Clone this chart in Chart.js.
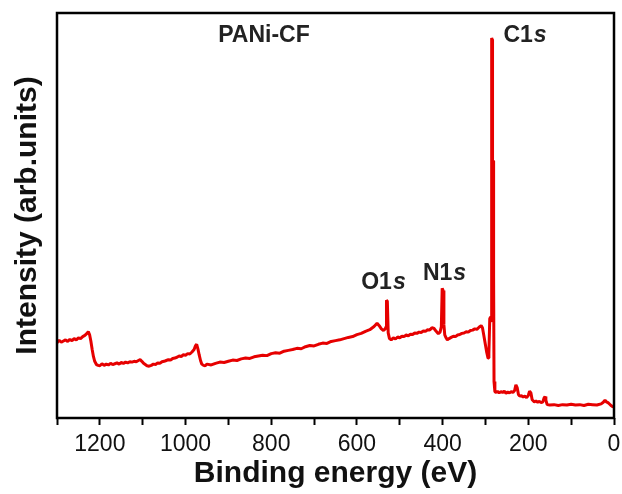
<!DOCTYPE html>
<html>
<head>
<meta charset="utf-8">
<script src="https://cdn.jsdelivr.net/npm/chart.js@4.4.1/dist/chart.umd.min.js"></script>
<style>
  html, body { margin: 0; padding: 0; background: #fff; }
  #wrap { width: 622px; height: 494px; }
</style>
</head>
<body>
<div id="wrap"><canvas id="xpsChart"></canvas></div>
<script>
/********************
DATA
********************/

// binding energy (eV), high to low
var energy = [
  1300, 1295, 1290, 1285, 1280, 1275, 1270, 1265, 1260, 1255, 1250, 1245, 1240, 1235, 1230, 1227, 1224, 1221, 1218, 1215, 1212, 1208, 1204, 1200,
  1195, 1190, 1185, 1180, 1175, 1170, 1165, 1160, 1155, 1150, 1145, 1140, 1135, 1130, 1125, 1120, 1115, 1110, 1106, 1102, 1098, 1094, 1090, 1085, 1080, 1075,
  1070, 1065, 1060, 1055, 1050, 1045, 1040, 1035, 1030, 1025, 1020, 1015, 1010, 1005, 1000, 995, 990, 985, 980, 977, 974, 971, 968, 965, 962, 958, 954,
  950, 940, 930, 920, 910, 900, 890, 880, 870, 860, 850, 840, 830, 820, 810, 800, 790, 780, 770, 760, 750, 740, 730, 720, 710, 700,
  690, 680, 670, 660, 650, 640, 630, 620, 610, 600, 590, 580, 570, 560, 553, 548, 543, 538, 534, 532, 531, 529, 527, 524, 520,
  515, 510, 505, 500, 495, 490, 485, 480, 475, 470, 465, 460, 455, 450, 445, 440, 435, 430, 425, 420, 415, 410, 406, 403, 401, 399, 397, 395, 392, 389,
  385, 380, 375, 370, 365, 360, 355, 350, 345, 340, 335, 330, 325, 320, 315, 310, 307, 304, 300, 297, 294, 292, 290, 288, 286.5, 285.5, 284.5, 283.5, 282, 281, 280, 278,
  275, 272, 268, 264, 260, 256, 252, 248, 244, 240, 236, 232, 229, 226, 223, 220, 216, 212, 208, 204, 200, 197, 194, 191, 186, 182, 178, 174, 170, 166, 163, 161, 159, 156,
  150, 140, 130, 120, 110, 100, 90, 80, 70, 60, 50, 40, 30, 25, 21, 18, 14, 10, 6, 3, 0
];

// intensity (arb. units)
var intensity = [
  18.6, 19.2, 18.7, 19.0, 19.3, 18.9, 19.4, 19.1, 19.6, 19.3, 19.8, 19.6, 20.1, 20.4, 20.9, 21.3, 20.6, 19.0, 17.0, 15.2, 14.0, 13.2, 13.0, 12.9,
  13.4, 13.0, 13.3, 13.1, 13.5, 13.2, 13.4, 13.6, 13.3, 13.7, 13.5, 13.8, 13.6, 13.9, 13.8, 14.0, 13.9, 14.2, 14.4, 14.0, 13.5, 13.2, 12.9, 12.8, 13.0, 13.3,
  13.2, 13.6, 13.5, 13.9, 14.0, 14.2, 14.4, 14.3, 14.7, 14.8, 15.0, 15.3, 15.2, 15.6, 15.5, 15.9, 15.8, 16.3, 16.9, 17.8, 18.2, 17.0, 15.5, 14.2, 13.3, 13.0, 12.9,
  13.3, 13.1, 13.5, 13.8, 13.7, 14.0, 14.3, 14.2, 14.6, 14.8, 14.7, 15.1, 15.3, 15.5, 15.4, 15.9, 16.1, 16.0, 16.5, 16.7, 16.9, 17.2, 17.1, 17.6, 17.9, 17.8,
  18.2, 18.5, 18.4, 18.9, 19.1, 19.3, 19.6, 19.9, 20.1, 20.6, 20.9, 21.4, 21.8, 22.6, 23.4, 22.8, 22.0, 21.6, 22.0, 22.5, 29.1, 28.8, 21.0, 19.6, 19.3,
  19.8, 19.5, 20.0, 19.8, 20.2, 20.1, 20.5, 20.3, 20.7, 20.6, 21.0, 20.9, 21.2, 21.1, 21.5, 21.4, 21.8, 21.7, 22.3, 22.1, 21.4, 20.8, 21.2, 22.5, 32.0, 31.5, 23.0, 20.5, 19.8, 19.3,
  19.6, 19.9, 20.2, 20.1, 20.5, 20.6, 20.9, 21.0, 21.3, 21.2, 21.6, 21.7, 22.0, 21.9, 22.4, 22.8, 22.3, 20.5, 18.0, 16.2, 14.8, 16.0, 24.5, 25.0, 24.0, 93.8, 93.5, 63.7, 63.5, 35.0, 9.0, 6.5,
  6.3, 6.6, 6.2, 6.5, 6.3, 6.6, 6.1, 6.4, 6.2, 6.5, 6.3, 6.8, 8.2, 7.5, 5.8, 5.4, 5.5, 5.2, 5.4, 5.0, 5.6, 6.6, 6.2, 4.5, 4.0, 4.2, 3.9, 4.1, 3.8, 4.0, 5.0, 5.3, 4.4, 3.3,
  3.2, 3.3, 3.1, 3.3, 3.2, 3.4, 3.2, 3.3, 3.1, 3.4, 3.3, 3.2, 3.5, 3.9, 4.4, 4.0, 3.8, 3.4, 3.0, 2.8, 2.7
];

// peak labels: [text before italic part, italic part, energy, intensity, align]
var peakLabels = [
  ['PANi-CF', '', 817, 94.3, 'center'],
  ['C1', 's', 258, 94.3, 'left'],
  ['O1', 's', 590, 33.3, 'left'],
  ['N1', 's', 446, 35.6, 'left']
];

var xTicksMajor = 200;

/********************
PLUGINS
********************/

// box around the plot area
var framePlugin = {
  id: 'frame',
  afterDraw: function (chart) {
    var a = chart.chartArea, ctx = chart.ctx;
    ctx.save();
    ctx.strokeStyle = '#000';
    ctx.lineWidth = 2.5;
    ctx.strokeRect(a.left, a.top, a.right - a.left, a.bottom - a.top);
    ctx.restore();
  }
};

// peak names written in the plot
var labelPlugin = {
  id: 'peakLabels',
  afterDatasetsDraw: function (chart) {
    var ctx = chart.ctx, xs = chart.scales.x, ys = chart.scales.y;
    ctx.save();
    ctx.fillStyle = '#222';
    ctx.textBaseline = 'middle';
    peakLabels.forEach(function (p) {
      var px = xs.getPixelForValue(p[2]);
      var py = ys.getPixelForValue(p[3]);
      ctx.font = 'bold 23px "Liberation Sans", Arial, sans-serif';
      var w1 = ctx.measureText(p[0]).width;
      ctx.font = 'italic bold 23px "Liberation Sans", Arial, sans-serif';
      var w2 = ctx.measureText(p[1]).width;
      var start = p[4] === 'center' ? px - (w1 + w2) / 2 : px;
      ctx.textAlign = 'left';
      ctx.font = 'bold 23px "Liberation Sans", Arial, sans-serif';
      ctx.fillText(p[0], start, py);
      if (p[1]) {
        ctx.font = 'italic bold 23px "Liberation Sans", Arial, sans-serif';
        ctx.fillText(p[1], start + w1 + 1, py);
      }
    });
    ctx.restore();
  }
};

/********************
XPS SURVEY CHART
********************/

var ctx = document.getElementById('xpsChart').getContext('2d');
var chart = new Chart(ctx, {
    type: 'line',
    data: {
        datasets: [{
            data: energy.map(function (e, i) { return { x: e, y: intensity[i] }; }),
            borderColor: '#e60000',
            borderWidth: 3,
            borderJoinStyle: 'bevel',
            pointRadius: 0,
            tension: 0,
            fill: false
        }]
    },
    options: {
      responsive: true,
      maintainAspectRatio: false,
      animation: false,
      layout: {
        padding: { left: 0, right: 8, top: 13, bottom: 0 }
      },
      plugins: {
        legend: { display: false },
        tooltip: { enabled: false }
      },
      scales: {
        x: {
          type: 'linear',
          reverse: true,
          min: 0,
          max: 1300,
          afterFit: function (scale) {
            scale.height = 76;
            scale.paddingLeft = 0;
            scale.paddingRight = 0;
          },
          border: { display: false },
          grid: {
            drawOnChartArea: false,
            drawTicks: true,
            tickLength: 7,
            tickColor: '#000',
            tickWidth: 2
          },
          ticks: {
            stepSize: 100,
            autoSkip: false,
            maxRotation: 0,
            padding: 6,
            color: '#111',
            font: { family: '"Liberation Sans", Arial, sans-serif', size: 23 },
            callback: function (v) { return v % xTicksMajor === 0 ? v : ''; }
          },
          title: {
            display: true,
            text: 'Binding energy (eV)',
            color: '#111',
            padding: { top: 0, bottom: 2 },
            font: { family: '"Liberation Sans", Arial, sans-serif', size: 30, weight: 'bold' }
          }
        },
        y: {
          min: 0,
          max: 100,
          afterFit: function (scale) { scale.width = 57; },
          border: { display: false },
          grid: { display: false },
          ticks: { display: false },
          title: {
            display: true,
            text: 'Intensity (arb.units)',
            color: '#111',
            padding: { top: 10, bottom: 0 },
            font: { family: '"Liberation Sans", Arial, sans-serif', size: 30, weight: 'bold' }
          }
        }
      }
    },
    plugins: [framePlugin, labelPlugin]
});
</script>
</body>
</html>
